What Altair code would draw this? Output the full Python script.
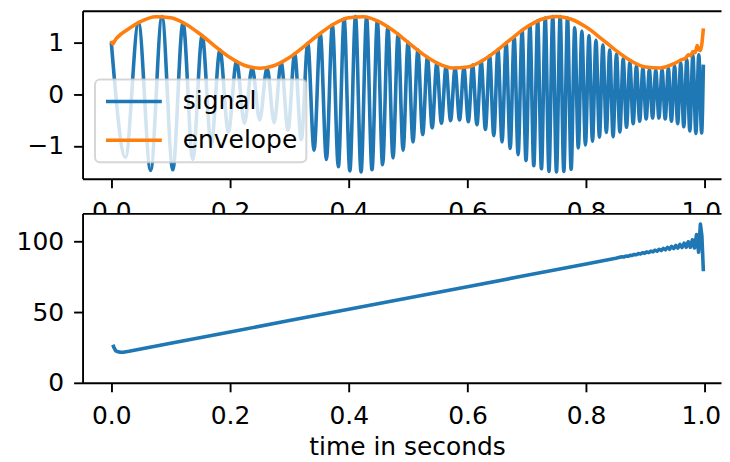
import altair as alt
import pandas as pd

# ---- signal: extrema (time in s, amplitude) ----
sig_t = [0.0, 0.0239, 0.0458, 0.0662, 0.0854, 0.1036, 0.1208, 0.1373, 0.1531, 0.1683,
         0.1830, 0.1972, 0.2110, 0.2243, 0.2373, 0.2500, 0.2624, 0.2744, 0.2862, 0.2977,
         0.3090, 0.3201, 0.3310, 0.3416, 0.3521, 0.3624, 0.3725, 0.3825, 0.3923, 0.4019,
         0.4114, 0.4208, 0.4301, 0.4392, 0.4482, 0.4571, 0.4659, 0.4746, 0.4832, 0.4916,
         0.5000, 0.5083, 0.5165, 0.5246, 0.5326, 0.5406, 0.5484, 0.5562, 0.5639, 0.5716,
         0.5792, 0.5867, 0.5941, 0.6015, 0.6088, 0.6160, 0.6232, 0.6303, 0.6374, 0.6444,
         0.6514, 0.6583, 0.6652, 0.6720, 0.6787, 0.6854, 0.6921, 0.6987, 0.7053, 0.7118,
         0.7183, 0.7247, 0.7311, 0.7374, 0.7437, 0.7500, 0.7562, 0.7624, 0.7686, 0.7747,
         0.7808, 0.7868, 0.7928, 0.7988, 0.8048, 0.8107, 0.8165, 0.8224, 0.8282, 0.8340,
         0.8397, 0.8454, 0.8511, 0.8568, 0.8624, 0.8680, 0.8736, 0.8792, 0.8847, 0.8902,
         0.8956, 0.9011, 0.9065, 0.9119, 0.9173, 0.9226, 0.9279, 0.9332, 0.9385, 0.9437,
         0.9490, 0.9542, 0.9593, 0.9645, 0.9696, 0.9747, 0.9798, 0.9849, 0.9898, 0.9945,
         0.9975]
sig_v = [1.00, -1.22, 1.38, -1.47, 1.50, -1.46, 1.38, -1.26, 1.13, -0.98,
         0.85, -0.73, 0.63, -0.56, 0.51, -0.50, 0.51, -0.55, 0.61, -0.69,
         0.78, -0.88, 0.98, -1.08, 1.17, -1.26, 1.34, -1.40, 1.45, -1.48,
         1.50, -1.50, 1.48, -1.46, 1.41, -1.36, 1.30, -1.23, 1.16, -1.08,
         1.00, -0.92, 0.85, -0.78, 0.71, -0.65, 0.60, -0.56, 0.53, -0.51,
         0.50, -0.50, 0.51, -0.53, 0.56, -0.59, 0.63, -0.68, 0.74, -0.80,
         0.86, -0.92, 0.99, -1.05, 1.11, -1.17, 1.23, -1.28, 1.33, -1.38,
         1.41, -1.44, 1.47, -1.49, 1.50, -1.50, 1.50, -1.49, 1.47, -1.45,
         1.28, -1.04, 1.22, -0.98, 1.13, -0.91, 1.04, -0.83, 0.95, -0.74,
         0.85, -0.82, 0.77, -0.73, 0.68, -0.64, 0.61, -0.57, 0.54, -0.52,
         0.50, -0.48, 0.47, -0.46, 0.46, -0.46, 0.47, -0.48, 0.50, -0.52,
         0.54, -0.57, 0.60, -0.63, 0.67, -0.71, 0.75, -0.76, 0.76, -0.75,
         0.57]

# ---- amplitude envelope ----
env_t = [0.0, 0.0025, 0.0075, 0.0125, 0.025, 0.05, 0.075, 0.1, 0.125, 0.15,
         0.175, 0.2, 0.225, 0.25, 0.275, 0.3, 0.325, 0.35, 0.375, 0.4,
         0.425, 0.45, 0.475, 0.5, 0.525, 0.55, 0.575, 0.6, 0.625, 0.65,
         0.675, 0.7, 0.725, 0.75, 0.775, 0.8, 0.825, 0.85, 0.875, 0.9,
         0.925, 0.95, 0.96, 0.968, 0.972, 0.976, 0.98, 0.984, 0.987, 0.99,
         0.9925, 0.9975]
env_v = [1.03, 0.97, 1.06, 1.12, 1.227, 1.405, 1.494, 1.476, 1.354, 1.155,
         0.922, 0.706, 0.554, 0.50, 0.554, 0.706, 0.922, 1.155, 1.354, 1.476,
         1.494, 1.405, 1.227, 1.00, 0.773, 0.595, 0.506, 0.524, 0.646, 0.845,
         1.078, 1.294, 1.446, 1.50, 1.446, 1.294, 1.078, 0.845, 0.646, 0.524,
         0.506, 0.60, 0.66, 0.70, 0.76, 0.74, 0.82, 0.80, 0.94, 0.86,
         0.84, 1.27]

# ---- instantaneous frequency ----
freq_t = [0.0025, 0.005, 0.0075, 0.01, 0.015, 0.02, 0.03, 0.1, 0.2, 0.3,
          0.4, 0.5, 0.6, 0.7, 0.8, 0.85, 0.8600, 0.8635, 0.8670, 0.8705,
          0.8740, 0.8775, 0.8810, 0.8845, 0.8880, 0.8915, 0.8950, 0.8985, 0.9020, 0.9055,
          0.9090, 0.9125, 0.9160, 0.9195, 0.9230, 0.9265, 0.9300, 0.9335, 0.9370, 0.9405,
          0.9440, 0.9475, 0.9510, 0.9545, 0.9580, 0.9615, 0.9650, 0.9685, 0.9720, 0.9755,
          0.9790, 0.9825, 0.9860, 0.9895, 0.9925, 0.9950, 0.9975]
freq_v = [27.0, 24.5, 22.6, 22.2, 21.6, 21.7, 22.4, 28.0, 36.0, 44.1,
          52.1, 60.1, 68.1, 76.1, 84.2, 88.2, 89.2, 89.1, 89.7, 89.6,
          90.3, 90.2, 90.9, 90.7, 91.5, 91.2, 92.1, 91.7, 92.7, 92.2,
          93.3, 92.7, 93.9, 93.2, 94.6, 93.7, 95.2, 94.2, 95.9, 94.6,
          96.6, 95.1, 97.3, 95.4, 98.0, 95.8, 98.9, 96.0, 99.9, 96.0,
          101.3, 95.5, 105.0, 92.5, 112.5, 104.0, 79.0]

series_names = ["signal", "envelope"]
series_colors = ["#1f77b4", "#ff7f0e"]
x_ticks = [0.0, 0.2, 0.4, 0.6, 0.8, 1.0]
top_y_ticks = [-1, 0, 1]
bottom_y_ticks = [0, 50, 100]
x_title = "time in seconds"

FS = 25
X_DOMAIN = [-0.0484, 1.0272]
TOP_Y = [-1.631, 1.610]
BOT_Y = [0, 120]
PLOT_W = 640.5
TOP_H = 168.5
BOT_H = 170
LW = 3.6

sig_df = pd.DataFrame({"t": sig_t, "v": sig_v, "series": "signal"})
env_df = pd.DataFrame({"t": env_t, "v": env_v, "series": "envelope"})
freq_df = pd.DataFrame({"t": freq_t, "f": freq_v})

xs = alt.Scale(domain=X_DOMAIN, nice=False, zero=False)

color = alt.Color(
    "series:N",
    scale=alt.Scale(domain=series_names, range=series_colors),
    sort=series_names,
    legend=alt.Legend(
        title=None, orient="none", legendX=12.5, legendY=69, direction="vertical",
        padding=9, fillColor="rgba(255,255,255,0.8)", strokeColor="rgba(204,204,204,0.8)",
        cornerRadius=5, symbolType="M-1,0H4.09", symbolSize=484,
        symbolStrokeWidth=LW, labelFontSize=FS, labelFont="DejaVu Sans",
        labelColor="black", labelOffset=53, rowPadding=13, labelLimit=400,
    ),
)

# keep the last x label inside the page edge
last_label_shift = {"condition": {"test": "datum.value == 1", "value": -4}, "value": 0}

x_bottom_axis = alt.Axis(values=x_ticks, format=".1f", title=None, labelPadding=11.7,
                         labelFlush=False, labelOverlap=False, labelOffset=last_label_shift)
frame_axis = alt.Axis(orient="top", labels=False, ticks=False, domain=True, title=None)

top_y = alt.Y("v:Q", scale=alt.Scale(domain=TOP_Y, nice=False, zero=False),
              axis=alt.Axis(values=top_y_ticks, title=None, labelPadding=10))

sig_line = alt.Chart(sig_df).mark_line(
    strokeWidth=LW, interpolate="monotone", strokeJoin="round", clip=True
).encode(x=alt.X("t:Q", scale=xs, axis=x_bottom_axis), y=top_y, color=color, order="t:Q")

env_line = alt.Chart(env_df).mark_line(
    strokeWidth=LW, interpolate="monotone", strokeJoin="round", clip=True
).encode(x=alt.X("t:Q", scale=xs, axis=x_bottom_axis), y=top_y, color=color, order="t:Q")

top_frame = alt.Chart(env_df).mark_line(strokeOpacity=0).encode(
    x=alt.X("t:Q", scale=xs, axis=frame_axis), y=top_y
)

top = alt.layer(alt.layer(sig_line, env_line), top_frame).resolve_scale(
    x="independent"
).properties(width=PLOT_W, height=TOP_H)

bot_y = alt.Y("f:Q", scale=alt.Scale(domain=BOT_Y, nice=False, zero=False),
              axis=alt.Axis(values=bottom_y_ticks, title=None, labelPadding=10))

freq_line = alt.Chart(freq_df).mark_line(
    strokeWidth=LW, color="#1f77b4", strokeJoin="round", clip=True
).encode(
    x=alt.X("t:Q", scale=xs, axis=alt.Axis(values=x_ticks, format=".1f", title=x_title,
                                           labelPadding=11.7, labelFlush=False,
                                           labelOverlap=False, titlePadding=6,
                                           titleX=325.5, labelOffset=last_label_shift)),
    y=bot_y, order="t:Q",
)
bot_frame = alt.Chart(freq_df).mark_line(strokeOpacity=0).encode(
    x=alt.X("t:Q", scale=xs, axis=frame_axis), y=bot_y
)
bottom = alt.layer(freq_line, bot_frame).resolve_scale(x="independent").properties(
    width=PLOT_W, height=BOT_H
)

chart = alt.vconcat(top, bottom, spacing=34.3, bounds="flush").resolve_legend(
    color="independent"
).properties(
    padding={"left": 6.8, "top": 1, "right": 0, "bottom": 0}
).configure(font="DejaVu Sans").configure_view(
    stroke="transparent", fill="white"
).configure_legend(strokeWidth=2).configure_axis(
    labelFontSize=FS, labelColor="black", labelFont="DejaVu Sans",
    tickColor="black", tickWidth=1.9, tickSize=9,
    domainColor="black", domainWidth=1.9, grid=False,
    titleFontSize=FS, titleFontWeight="normal", titleColor="black", titleFont="DejaVu Sans",
)

chart.save("out.html", embed_options={"renderer": "svg", "actions": False})
